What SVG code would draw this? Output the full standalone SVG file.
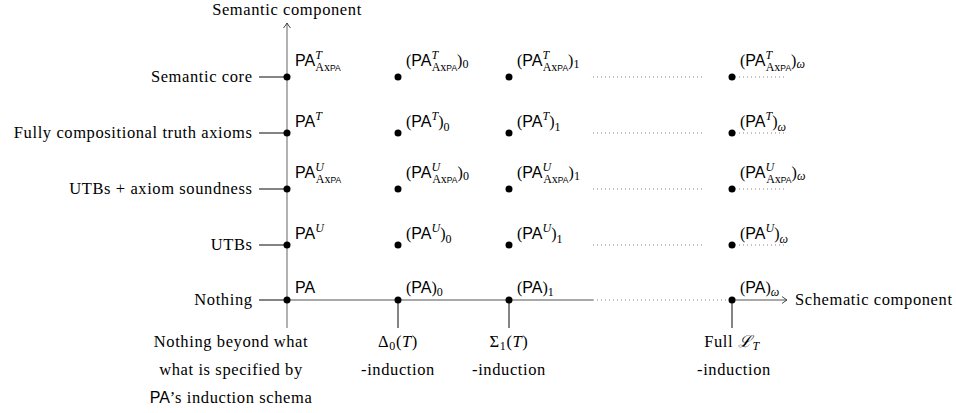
<svg xmlns="http://www.w3.org/2000/svg" width="956" height="413" viewBox="0 0 956 413">
<style>
text{fill:#000}
.rm{font-family:"Liberation Serif","Times New Roman",serif}
.mi{font-family:"Liberation Serif","Times New Roman",serif;font-style:italic}
.sf{font-family:"Liberation Sans",Arial,sans-serif}
.lab{font-family:"Liberation Serif","Times New Roman",serif;font-size:16.5px;letter-spacing:0.6px}
.m{font-size:16px}
.sc{font-size:12px}
.ss{font-size:8.5px}
.dot{fill:#000}
.tick{stroke:#333;stroke-width:1.2;fill:none}
.vax{stroke:#999;stroke-width:1.5;fill:none}
.hax{stroke:#555;stroke-width:1.2;fill:none}
.dotted{stroke:#777;stroke-width:0.9;stroke-dasharray:1 3;fill:none}
</style>
<defs>
<marker id="arr" viewBox="-6 -5 8 10" markerWidth="8" markerHeight="10" refX="0" refY="0" orient="auto" markerUnits="userSpaceOnUse">
<path d="M-5,-3.5 Q-1.5,-0.8 0,0 Q-1.5,0.8 -5,3.5" fill="none" stroke="#333" stroke-width="0.9"/>
</marker>
</defs>
<g id="connectors">
<line class="vax" x1="287" y1="328" x2="287" y2="23" marker-end="url(#arr)"/>
<line class="hax" x1="287" y1="300" x2="593" y2="300"/>
<line class="dotted" x1="593" y1="300" x2="729" y2="300"/>
<line class="hax" x1="732" y1="300" x2="787" y2="300" marker-end="url(#arr)"/>
<line class="tick" x1="259" y1="77" x2="287" y2="77"/>
<line class="tick" x1="259" y1="133" x2="287" y2="133"/>
<line class="tick" x1="259" y1="189" x2="287" y2="189"/>
<line class="tick" x1="259" y1="245" x2="287" y2="245"/>
<line class="tick" x1="259" y1="300" x2="287" y2="300"/>
<line class="tick" x1="398" y1="300" x2="398" y2="328"/>
<line class="tick" x1="509" y1="300" x2="509" y2="328"/>
<line class="tick" x1="732" y1="300" x2="732" y2="328"/>
<line class="dotted" x1="593" y1="77" x2="703" y2="77"/>
<line class="dotted" x1="735" y1="77" x2="786" y2="77"/>
<line class="dotted" x1="593" y1="133" x2="703" y2="133"/>
<line class="dotted" x1="735" y1="133" x2="786" y2="133"/>
<line class="dotted" x1="593" y1="189" x2="703" y2="189"/>
<line class="dotted" x1="735" y1="189" x2="786" y2="189"/>
<line class="dotted" x1="593" y1="245" x2="703" y2="245"/>
<line class="dotted" x1="735" y1="245" x2="786" y2="245"/>
</g>
<g id="axis-labels">
<text class="lab" x="287" y="15" text-anchor="middle">Semantic component</text>
<text class="lab" x="795" y="305">Schematic component</text>
<text class="lab" x="252.6" y="82" text-anchor="end">Semantic core</text>
<text class="lab" x="252.6" y="138" text-anchor="end">Fully compositional truth axioms</text>
<text class="lab" x="252.6" y="194" text-anchor="end">UTBs + axiom soundness</text>
<text class="lab" x="252.6" y="250" text-anchor="end">UTBs</text>
<text class="lab" x="252.6" y="305" text-anchor="end">Nothing</text>
<text class="lab" x="231" y="347" text-anchor="middle">Nothing beyond what</text>
<text class="lab" x="231" y="375" text-anchor="middle">what is specified by</text>
<text class="lab" x="231" y="403" text-anchor="middle"><tspan class="sf" style="font-size:16px;letter-spacing:0">PA</tspan>’s induction schema</text>
<text class="lab" x="398" y="347" text-anchor="middle">Δ<tspan class="sc" dy="3">0</tspan><tspan dy="-3">(</tspan><tspan class="mi">T</tspan>)</text>
<text class="lab" x="398" y="375" text-anchor="middle">-induction</text>
<text class="lab" x="509" y="347" text-anchor="middle">Σ<tspan class="sc" dy="3">1</tspan><tspan dy="-3">(</tspan><tspan class="mi">T</tspan>)</text>
<text class="lab" x="509" y="375" text-anchor="middle">-induction</text>
<text class="lab" x="732" y="347" text-anchor="middle">Full <tspan class="mi">ℒ</tspan><tspan class="mi sc" dy="3">T</tspan></text>
<text class="lab" x="734" y="375" text-anchor="middle">-induction</text>
</g>
<g id="node-PA-T-Ax">
<circle class="dot" cx="287" cy="77" r="3.5"/>
<text x="295" y="66" class="sf m">PA<tspan class="mi sc" dy="-7">T</tspan><tspan class="rm sc" dx="-6.5" dy="12">Ax</tspan><tspan class="sf ss">PA</tspan></text>
</g>
<g id="node-PA-T-Ax-0">
<circle class="dot" cx="398" cy="77" r="3.5"/>
<text x="406" y="66" class="m"><tspan class="rm">(</tspan><tspan class="sf">PA</tspan><tspan class="mi sc" dy="-7">T</tspan><tspan class="rm sc" dx="-6.5" dy="12">Ax</tspan><tspan class="sf ss">PA</tspan><tspan class="rm" dy="-5">)</tspan><tspan class="rm sc" dy="2">0</tspan></text>
</g>
<g id="node-PA-T-Ax-1">
<circle class="dot" cx="509" cy="77" r="3.5"/>
<text x="517" y="66" class="m"><tspan class="rm">(</tspan><tspan class="sf">PA</tspan><tspan class="mi sc" dy="-7">T</tspan><tspan class="rm sc" dx="-6.5" dy="12">Ax</tspan><tspan class="sf ss">PA</tspan><tspan class="rm" dy="-5">)</tspan><tspan class="rm sc" dy="2">1</tspan></text>
</g>
<g id="node-PA-T-Ax-w">
<circle class="dot" cx="732" cy="77" r="3.5"/>
<text x="740" y="66" class="m"><tspan class="rm">(</tspan><tspan class="sf">PA</tspan><tspan class="mi sc" dy="-7">T</tspan><tspan class="rm sc" dx="-6.5" dy="12">Ax</tspan><tspan class="sf ss">PA</tspan><tspan class="rm" dy="-5">)</tspan><tspan class="mi sc" dy="2">ω</tspan></text>
</g>
<g id="node-PA-T">
<circle class="dot" cx="287" cy="133" r="3.5"/>
<text x="295" y="127" class="sf m">PA<tspan class="mi sc" dy="-7">T</tspan></text>
</g>
<g id="node-PA-T-0">
<circle class="dot" cx="398" cy="133" r="3.5"/>
<text x="406" y="127" class="m"><tspan class="rm">(</tspan><tspan class="sf">PA</tspan><tspan class="mi sc" dy="-7">T</tspan><tspan class="rm" dy="7">)</tspan><tspan class="rm sc" dy="4">0</tspan></text>
</g>
<g id="node-PA-T-1">
<circle class="dot" cx="509" cy="133" r="3.5"/>
<text x="517" y="127" class="m"><tspan class="rm">(</tspan><tspan class="sf">PA</tspan><tspan class="mi sc" dy="-7">T</tspan><tspan class="rm" dy="7">)</tspan><tspan class="rm sc" dy="4">1</tspan></text>
</g>
<g id="node-PA-T-w">
<circle class="dot" cx="732" cy="133" r="3.5"/>
<text x="740" y="127" class="m"><tspan class="rm">(</tspan><tspan class="sf">PA</tspan><tspan class="mi sc" dy="-7">T</tspan><tspan class="rm" dy="7">)</tspan><tspan class="mi sc" dy="4">ω</tspan></text>
</g>
<g id="node-PA-U-Ax">
<circle class="dot" cx="287" cy="189" r="3.5"/>
<text x="295" y="178" class="sf m">PA<tspan class="mi sc" dy="-7">U</tspan><tspan class="rm sc" dx="-8" dy="12">Ax</tspan><tspan class="sf ss">PA</tspan></text>
</g>
<g id="node-PA-U-Ax-0">
<circle class="dot" cx="398" cy="189" r="3.5"/>
<text x="406" y="178" class="m"><tspan class="rm">(</tspan><tspan class="sf">PA</tspan><tspan class="mi sc" dy="-7">U</tspan><tspan class="rm sc" dx="-8" dy="12">Ax</tspan><tspan class="sf ss">PA</tspan><tspan class="rm" dy="-5">)</tspan><tspan class="rm sc" dy="2">0</tspan></text>
</g>
<g id="node-PA-U-Ax-1">
<circle class="dot" cx="509" cy="189" r="3.5"/>
<text x="517" y="178" class="m"><tspan class="rm">(</tspan><tspan class="sf">PA</tspan><tspan class="mi sc" dy="-7">U</tspan><tspan class="rm sc" dx="-8" dy="12">Ax</tspan><tspan class="sf ss">PA</tspan><tspan class="rm" dy="-5">)</tspan><tspan class="rm sc" dy="2">1</tspan></text>
</g>
<g id="node-PA-U-Ax-w">
<circle class="dot" cx="732" cy="189" r="3.5"/>
<text x="740" y="178" class="m"><tspan class="rm">(</tspan><tspan class="sf">PA</tspan><tspan class="mi sc" dy="-7">U</tspan><tspan class="rm sc" dx="-8" dy="12">Ax</tspan><tspan class="sf ss">PA</tspan><tspan class="rm" dy="-5">)</tspan><tspan class="mi sc" dy="2">ω</tspan></text>
</g>
<g id="node-PA-U">
<circle class="dot" cx="287" cy="245" r="3.5"/>
<text x="295" y="239" class="sf m">PA<tspan class="mi sc" dy="-7">U</tspan></text>
</g>
<g id="node-PA-U-0">
<circle class="dot" cx="398" cy="245" r="3.5"/>
<text x="406" y="239" class="m"><tspan class="rm">(</tspan><tspan class="sf">PA</tspan><tspan class="mi sc" dy="-7">U</tspan><tspan class="rm" dy="7">)</tspan><tspan class="rm sc" dy="4">0</tspan></text>
</g>
<g id="node-PA-U-1">
<circle class="dot" cx="509" cy="245" r="3.5"/>
<text x="517" y="239" class="m"><tspan class="rm">(</tspan><tspan class="sf">PA</tspan><tspan class="mi sc" dy="-7">U</tspan><tspan class="rm" dy="7">)</tspan><tspan class="rm sc" dy="4">1</tspan></text>
</g>
<g id="node-PA-U-w">
<circle class="dot" cx="732" cy="245" r="3.5"/>
<text x="740" y="239" class="m"><tspan class="rm">(</tspan><tspan class="sf">PA</tspan><tspan class="mi sc" dy="-7">U</tspan><tspan class="rm" dy="7">)</tspan><tspan class="mi sc" dy="4">ω</tspan></text>
</g>
<g id="node-PA">
<circle class="dot" cx="287" cy="300" r="3.5"/>
<text x="295" y="293" class="sf m">PA</text>
</g>
<g id="node-PA-0">
<circle class="dot" cx="398" cy="300" r="3.5"/>
<text x="406" y="293" class="m"><tspan class="rm">(</tspan><tspan class="sf">PA</tspan><tspan class="rm">)</tspan><tspan class="rm sc" dy="3">0</tspan></text>
</g>
<g id="node-PA-1">
<circle class="dot" cx="509" cy="300" r="3.5"/>
<text x="517" y="293" class="m"><tspan class="rm">(</tspan><tspan class="sf">PA</tspan><tspan class="rm">)</tspan><tspan class="rm sc" dy="3">1</tspan></text>
</g>
<g id="node-PA-w">
<circle class="dot" cx="732" cy="300" r="3.5"/>
<text x="740" y="293" class="m"><tspan class="rm">(</tspan><tspan class="sf">PA</tspan><tspan class="rm">)</tspan><tspan class="mi sc" dy="3">ω</tspan></text>
</g>
</svg>
